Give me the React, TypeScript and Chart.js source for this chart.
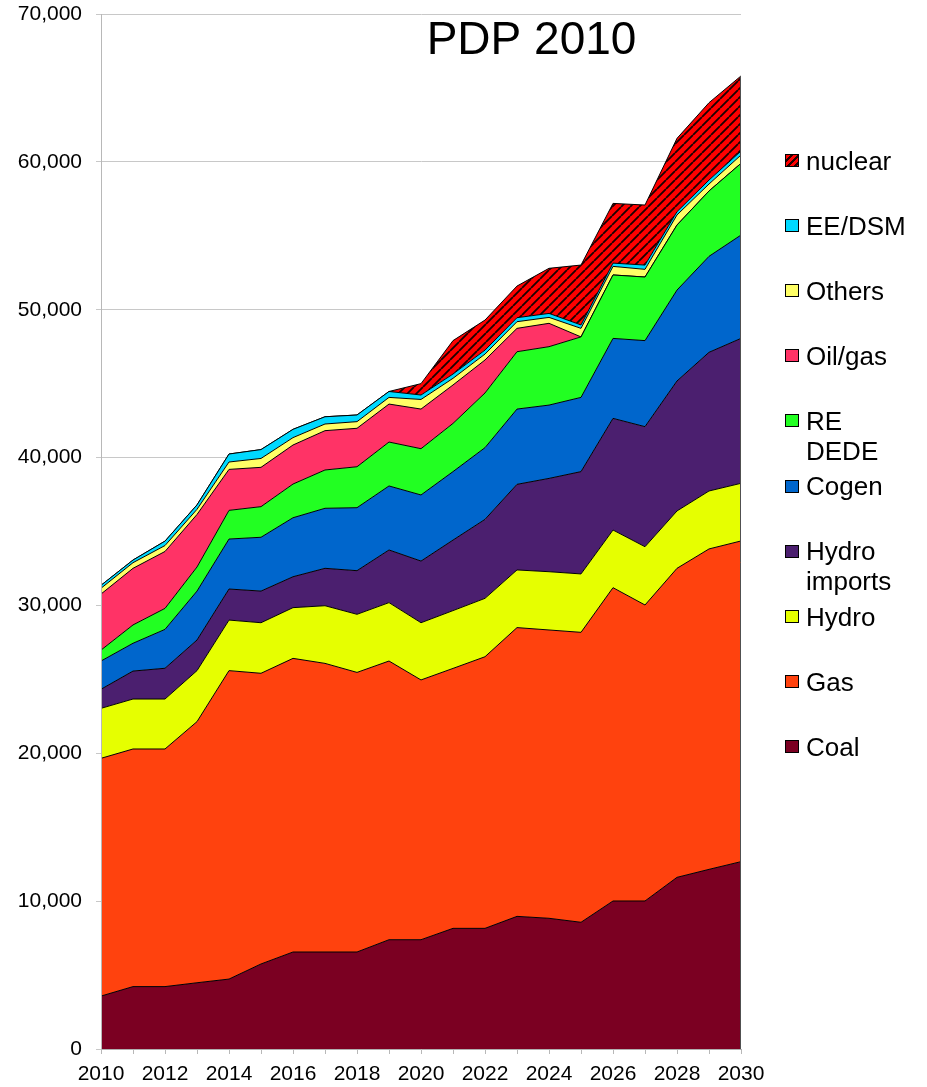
import React, { useEffect, useRef } from "react";
import { Chart, registerables } from "chart.js";

Chart.register(...registerables);

// ---------- data (MW) ----------
const years = [
  "2010", "2011", "2012", "2013", "2014", "2015", "2016", "2017", "2018", "2019", "2020",
  "2021", "2022", "2023", "2024", "2025", "2026", "2027", "2028", "2029", "2030",
];
const coal = [3580, 4220, 4220, 4480, 4730, 5750, 6560, 6560, 6560, 7390, 7390, 8160, 8160, 8970, 8840, 8570, 10010, 10010, 11610, 12150, 12670];
const gas = [16080, 16070, 16070, 17660, 20860, 19660, 19860, 19520, 18910, 18850, 17570, 17580, 18370, 19530, 19500, 19610, 21190, 20020, 20900, 21670, 21690];
const hydro = [3380, 3380, 3380, 3450, 3420, 3420, 3430, 3900, 3930, 3950, 3870, 3910, 3950, 3900, 3940, 3950, 3900, 3940, 3880, 3920, 3900];
const hydroImports = [1290, 1890, 2080, 2070, 2100, 2140, 2090, 2530, 2950, 3560, 4170, 4770, 5340, 5790, 6310, 6920, 7550, 8120, 8790, 9380, 9800];
const cogen = [1910, 1880, 2630, 3310, 3380, 3640, 3990, 4060, 4260, 4330, 4470, 4630, 4850, 5090, 4960, 5020, 5410, 5820, 6150, 6490, 6990];
const reDede = [740, 1240, 1420, 1630, 1940, 2070, 2280, 2590, 2770, 2970, 3130, 3260, 3700, 3880, 3950, 4090, 4290, 4300, 4400, 4420, 4850];
const oilGas = [3790, 3830, 3850, 3550, 2770, 2660, 2640, 2660, 2600, 2570, 2680, 2600, 2230, 1580, 1580, 0, 0, 0, 0, 0, 0];
const others = [390, 380, 400, 350, 500, 600, 500, 450, 450, 450, 650, 450, 400, 450, 400, 580, 580, 520, 680, 470, 560];
const eeDsm = [200, 180, 300, 300, 540, 600, 560, 490, 450, 400, 300, 290, 270, 270, 270, 230, 220, 290, 220, 270, 270];
const nuclear = [0, 0, 0, 0, 0, 0, 0, 0, 0, 0, 770, 2260, 2030, 2140, 3050, 4050, 4040, 4060, 4960, 5230, 5080];

const seriesNames = ["Coal", "Gas", "Hydro", "Hydro\nimports", "Cogen", "RE\nDEDE", "Oil/gas", "Others", "EE/DSM", "nuclear"];
const seriesValues = [coal, gas, hydro, hydroImports, cogen, reDede, oilGas, others, eeDsm, nuclear];
const seriesColors = ["#7B0022", "#FF420E", "#E6FF00", "#4B1F6F", "#0066CC", "#22FF22", "#FF3366", "#FFFF66", "#00D9FF", "#FF0000"];
const titleText = "PDP 2010";
const yTickMax = 70000;
const yTickStep = 10000;

const FONT = '"Liberation Sans", Arial, sans-serif';

function makeHatch(ctx: CanvasRenderingContext2D): CanvasPattern | string {
  const size = 9;
  const tile = document.createElement("canvas");
  tile.width = size;
  tile.height = size;
  const g = tile.getContext("2d");
  if (!g) return "#FF0000";
  g.fillStyle = "#FF0000";
  g.fillRect(0, 0, size, size);
  g.strokeStyle = "#1a0000";
  g.lineWidth = 1.8;
  g.beginPath();
  for (const k of [-size, 0, size]) {
    g.moveTo(k, size);
    g.lineTo(k + size, 0);
  }
  g.stroke();
  return ctx.createPattern(tile, "repeat") || "#FF0000";
}

const titlePlugin = {
  id: "pdpTitle",
  afterDraw(chart: any) {
    const { ctx, chartArea } = chart;
    ctx.save();
    ctx.font = `46px ${FONT}`;
    ctx.fillStyle = "#000";
    ctx.textAlign = "center";
    ctx.textBaseline = "alphabetic";
    ctx.fillText(titleText, chartArea.left + (chartArea.right - chartArea.left) * 0.6727, chartArea.top + 39.5);
    ctx.restore();
  },
};

const rightEdgePlugin = {
  id: "rightEdge",
  afterDatasetsDraw(chart: any) {
    const last = years.length - 1;
    const total = seriesValues.reduce((s, arr) => s + arr[last], 0);
    const xs = chart.scales.x;
    const ys = chart.scales.y;
    const x = Math.round(xs.getPixelForValue(last)) - 0.5;
    const ctx = chart.ctx;
    ctx.save();
    ctx.strokeStyle = "#505050";
    ctx.lineWidth = 1;
    ctx.beginPath();
    ctx.moveTo(x, ys.getPixelForValue(total));
    ctx.lineTo(x, ys.getPixelForValue(0));
    ctx.stroke();
    ctx.restore();
  },
};

export default function App() {
  const canvasRef = useRef<HTMLCanvasElement | null>(null);

  useEffect(() => {
    const canvas = canvasRef.current;
    if (!canvas) return;
    const ctx = canvas.getContext("2d");
    if (!ctx) return;
    const hatch = makeHatch(ctx);

    const datasets = seriesValues.map((vals, i) => ({
      label: seriesNames[i].replace("\n", " "),
      data: vals,
      backgroundColor: i === seriesValues.length - 1 ? hatch : seriesColors[i],
      borderColor: "#000",
      borderWidth: 1,
      fill: i === 0 ? "origin" : "-1",
      pointRadius: 0,
      pointHoverRadius: 0,
      tension: 0,
    }));

    const chart = new Chart(ctx, {
      type: "line",
      data: { labels: years, datasets: datasets as any },
      options: {
        responsive: false,
        animation: false,
        devicePixelRatio: 1,
        layout: { padding: { left: 0, right: 186, top: 14, bottom: 0 } },
        plugins: {
          legend: { display: false },
          tooltip: { enabled: false },
          title: { display: false },
        },
        scales: {
          x: {
            afterFit: (s: any) => {
              s.height = 38;
            },
            ticks: {
              autoSkip: false,
              maxRotation: 0,
              minRotation: 0,
              padding: 8,
              color: "#000",
              font: { size: 21, family: FONT },
              callback: (_v: any, i: number) => (i % 2 === 0 ? years[i] : ""),
            },
            grid: { drawOnChartArea: false, drawTicks: true, tickLength: 5, color: "#b8b8b8" },
            border: { display: true, color: "#b0b0b0", z: 1 },
          },
          y: {
            stacked: true,
            min: 0,
            max: yTickMax,
            afterFit: (s: any) => {
              s.width = 101;
              s.paddingTop = 0;
              s.paddingBottom = 0;
            },
            ticks: {
              stepSize: yTickStep,
              padding: 14,
              color: "#000",
              font: { size: 21, family: FONT },
              callback: (v: any) => Number(v).toLocaleString("en-US"),
            },
            grid: { color: "#c8c8c8", drawTicks: true, tickLength: 5 },
            border: { display: true, color: "#b8b8b8", z: 1 },
          },
        },
      },
      plugins: [titlePlugin, rightEdgePlugin],
    });

    return () => {
      chart.destroy();
    };
  }, []);

  const legendOrder = seriesNames.map((_, i) => i).reverse();
  const firstCenter = 160.5;
  const spacing = 65.1;

  return (
    <div style={{ position: "absolute", left: 0, top: 0, width: 927, height: 1087, background: "#fff" }}>
      <canvas ref={canvasRef} width={927} height={1087} style={{ display: "block", width: 927, height: 1087 }} />
      {legendOrder.map((idx, k) => {
        const c = firstCenter + k * spacing;
        const isNuclear = idx === seriesNames.length - 1;
        return (
          <React.Fragment key={seriesNames[idx]}>
            <div
              style={{
                position: "absolute",
                left: 785,
                top: c - 6.5,
                width: 14,
                height: 13,
                boxSizing: "border-box",
                border: "1px solid #000",
                background: isNuclear
                  ? "repeating-linear-gradient(135deg, #FF0000 0px, #FF0000 3px, #220000 3px, #220000 5px)"
                  : seriesColors[idx],
              }}
            />
            <div
              style={{
                position: "absolute",
                left: 806,
                top: c - 14.7,
                font: `26px ${FONT}`,
                lineHeight: "30px",
                color: "#000",
                whiteSpace: "pre",
              }}
            >
              {seriesNames[idx]}
            </div>
          </React.Fragment>
        );
      })}
    </div>
  );
}
